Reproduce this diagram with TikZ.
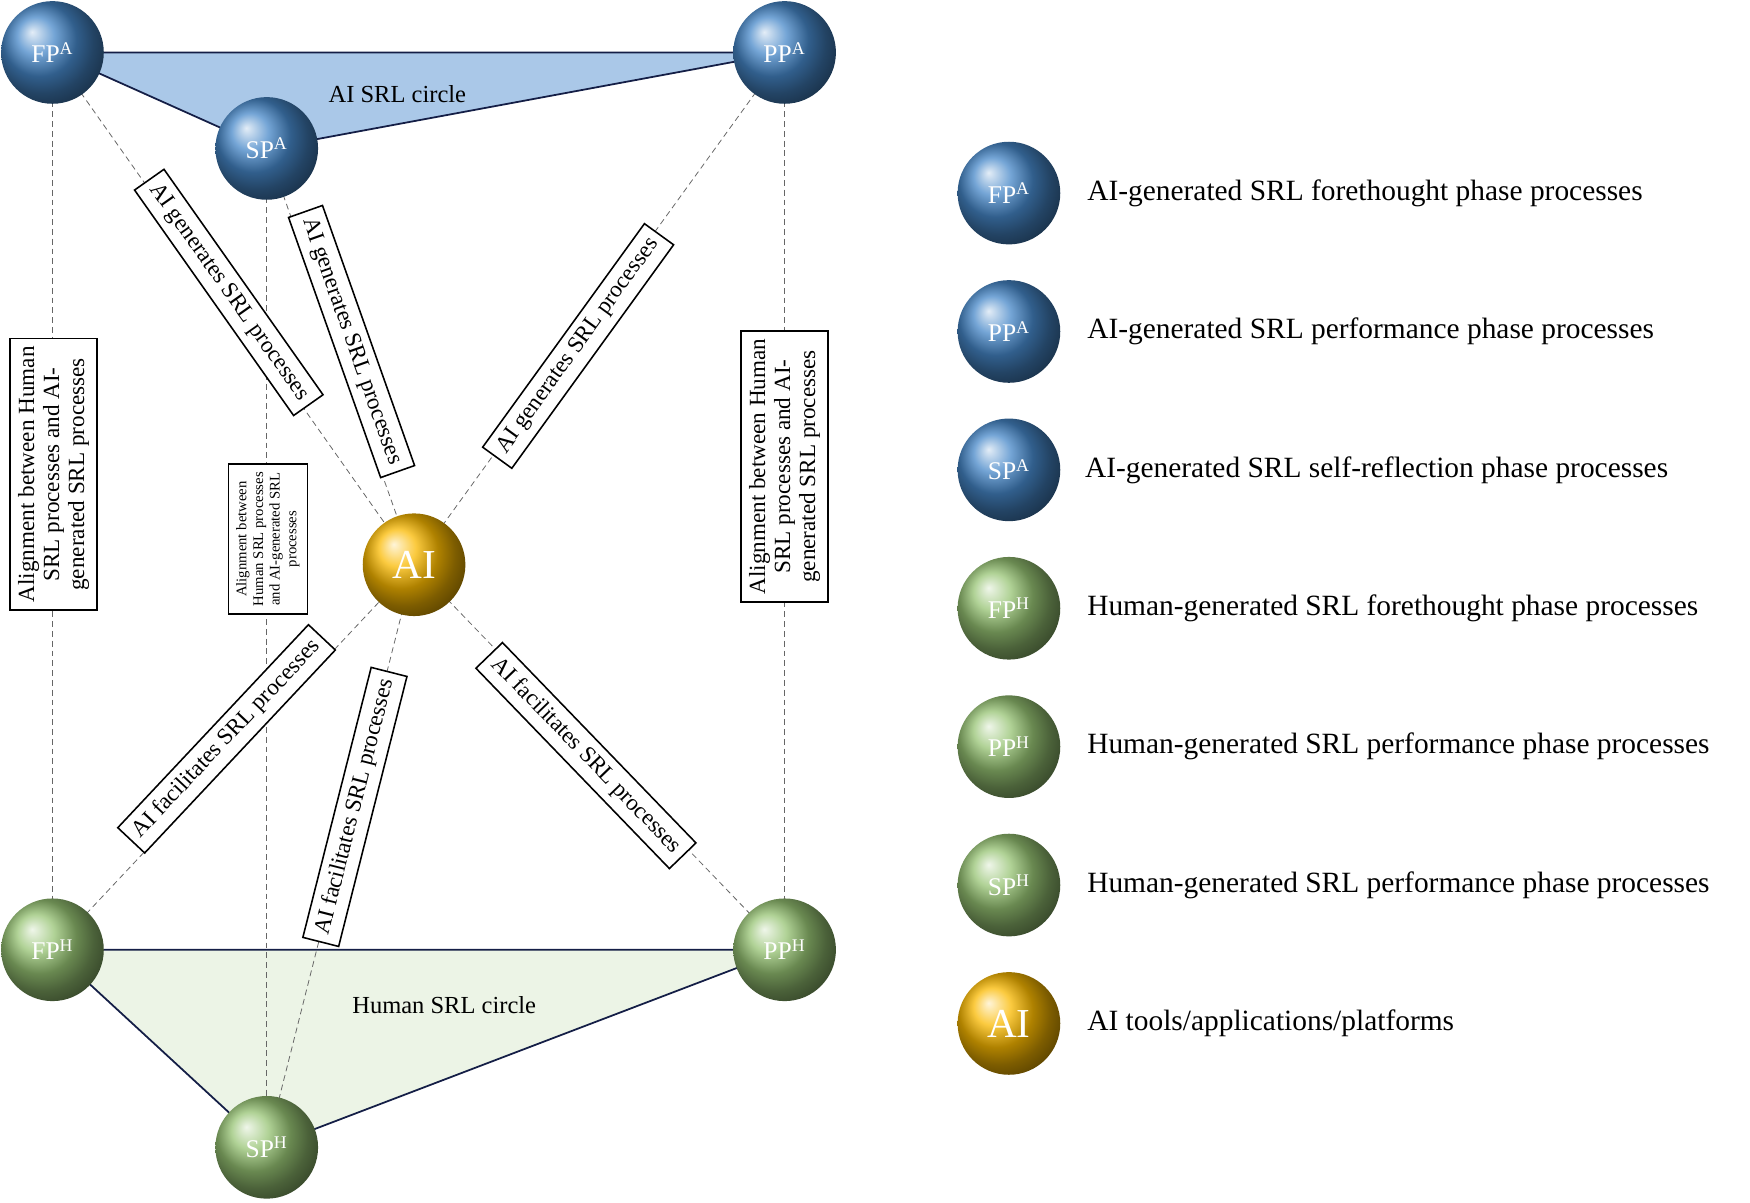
\documentclass[tikz,border=0pt]{standalone}
\usepackage{fontspec}
\setmainfont{Liberation Serif}
\begin{document}
\begin{tikzpicture}[x=0.02cm,y=-0.02cm,
  ball/.style={circle,minimum size=1.84cm,inner sep=0pt,shading=ball,text=white,font=\fontsize{13}{13}\selectfont},
  blue ball/.style={ball,ball color={rgb,255:red,70;green,135;blue,200}},
  green ball/.style={ball,ball color={rgb,255:red,150;green,195;blue,115}},
  yellow ball/.style={ball,ball color={rgb,255:red,250;green,185;blue,0},font=\fontsize{21}{21}\selectfont},
  dline/.style={densely dashed,gray!80!black,line width=0.4pt},
  tri/.style={draw={rgb,255:red,20;green,30;blue,70},line width=0.9pt},
  lab/.style={draw,fill=white,line width=0.8pt,align=center,font=\fontsize{11.8}{12.8}\selectfont,inner sep=4pt},
  leg/.style={anchor=west,font=\fontsize{15}{15}\selectfont}]
\useasboundingbox (0,0) rectangle (1568,1077);
\coordinate (fpa) at (47,47); \coordinate (ppa) at (703,47); \coordinate (spa) at (239,133);
\coordinate (ai) at (371,506);
\coordinate (fph) at (47,851); \coordinate (pph) at (703,851); \coordinate (sph) at (239,1028);
\filldraw[tri,fill={rgb,255:red,170;green,200;blue,232}] (fpa)--(ppa)--(spa)--cycle;
\filldraw[tri,fill={rgb,255:red,236;green,244;blue,230}] (fph)--(pph)--(sph)--cycle;
\node at (356,84) {\fontsize{12.5}{12.5}\selectfont AI SRL circle};
\node at (398,901) {\fontsize{12.5}{12.5}\selectfont Human SRL circle};
\draw[dline] (fpa)--(fph); \draw[dline] (ppa)--(pph); \draw[dline] (spa)--(sph);
\foreach \p in {fpa,ppa,spa,fph,pph,sph} \draw[dline] (\p)--(ai);
\node[lab,rotate=90] at (48,425) {Alignment between Human\\SRL processes and AI-\\generated SRL processes};
\node[lab,rotate=90] at (703,418) {Alignment between Human\\SRL processes and AI-\\generated SRL processes};
\node[lab,rotate=90,font=\fontsize{7.5}{8.5}\selectfont] at (240,483) {Alignment between\\Human SRL processes\\and AI-generated SRL\\processes};
\node[lab,rotate=-54.8] at (205,262) {AI generates SRL processes};
\node[lab,rotate=-70.5] at (315,306) {AI generates SRL processes};
\node[lab,rotate=54.1] at (518,310) {AI generates SRL processes};
\node[lab,rotate=46.8] at (203,662) {AI facilitates SRL processes};
\node[lab,rotate=75.8] at (318,723) {AI facilitates SRL processes};
\node[lab,rotate=-46] at (525,677) {AI facilitates SRL processes};
\node[blue ball] (FPA) at (fpa) {FP\textsuperscript{A}};
\node[blue ball] (PPA) at (ppa) {PP\textsuperscript{A}};
\node[blue ball] (SPA) at (spa) {SP\textsuperscript{A}};
\node[yellow ball] (AI) at (ai) {AI};
\node[green ball] (FPH) at (fph) {FP\textsuperscript{H}};
\node[green ball] (PPH) at (pph) {PP\textsuperscript{H}};
\node[green ball] (SPH) at (sph) {SP\textsuperscript{H}};
\node[blue ball] (l1) at (904,173) {FP\textsuperscript{A}};
\node[blue ball] (l2) at (904,297) {PP\textsuperscript{A}};
\node[blue ball] (l3) at (904,421) {SP\textsuperscript{A}};
\node[green ball] (l4) at (904,545) {FP\textsuperscript{H}};
\node[green ball] (l5) at (904,669) {PP\textsuperscript{H}};
\node[green ball] (l6) at (904,793) {SP\textsuperscript{H}};
\node[yellow ball] (l7) at (904,917) {AI};
\node[leg] at (968,173) {AI-generated SRL forethought phase processes};
\node[leg] at (968,297) {AI-generated SRL performance phase processes};
\node[leg] at (966,421) {AI-generated SRL self-reflection phase processes};
\node[leg] at (968,545) {Human-generated SRL forethought phase processes};
\node[leg] at (968,669) {Human-generated SRL performance phase processes};
\node[leg] at (968,793) {Human-generated SRL performance phase processes};
\node[leg] at (968,917) {AI tools/applications/platforms};
\end{tikzpicture}
\end{document}
